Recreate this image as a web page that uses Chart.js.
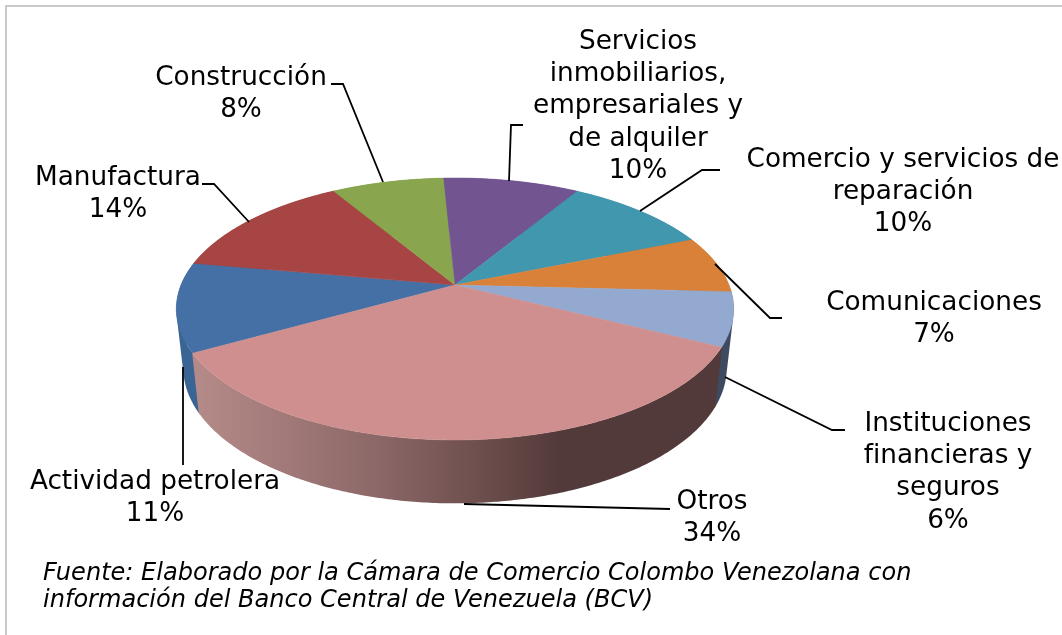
<!DOCTYPE html>
<html lang="es">
<head>
<meta charset="utf-8">
<title>PIB por sector</title>
<script src="https://cdn.jsdelivr.net/npm/chart.js@4"></script>
<style>
    html, body { margin: 0; padding: 0; background: #fff; }
    #frame { position: absolute; left: 5px; top: 5px; right: 0; bottom: 0; border-top: 2px solid #c9c9c9; border-left: 2px solid #c9c9c9; }
    #grafica { position: absolute; left: 0; top: 0; }
</style>
</head>
<body>
<div id="frame"></div>
<canvas id="grafica" width="1062" height="635"></canvas>
<script>
// Datos del gráfico
const categories = ['Actividad petrolera', 'Manufactura', 'Construcción', 'Servicios inmobiliarios, empresariales y de alquiler', 'Comercio y servicios de reparación', 'Comunicaciones', 'Instituciones financieras y seguros', 'Otros'];
const values = [11, 13.6, 7.8, 9.4, 10.15, 7.07, 6.6, 34.4];
const percentLabels = ['11%', '14%', '8%', '10%', '10%', '7%', '6%', '34%'];
const sliceColors = ['#4470a5', '#a74544', '#89a64e', '#725590', '#4097ae', '#d98139', '#94a9cf', '#ce8f8e'];
const wallColors = ['#3a6494', '#8c3a39', '#738b41', '#5f4778', '#357f92', '#b66c30', '#3d4a60', null];
const footnote = ['Fuente: Elaborado por la Cámara de Comercio Colombo Venezolana con', 'información del Banco Central de Venezuela (BCV)'];

// Etiquetas partidas en líneas: texto, centro x, primera línea y
const labelLayout = [
    { lines: ['Actividad petrolera'], x: 155, y: 482 },
    { lines: ['Manufactura'], x: 118, y: 178 },
    { lines: ['Construcción'], x: 241, y: 78 },
    { lines: ['Servicios', 'inmobiliarios,', 'empresariales y', 'de alquiler'], x: 638, y: 42 },
    { lines: ['Comercio y servicios de', 'reparación'], x: 903, y: 160 },
    { lines: ['Comunicaciones'], x: 934, y: 303 },
    { lines: ['Instituciones', 'financieras y', 'seguros'], x: 948, y: 424 },
    { lines: ['Otros'], x: 712, y: 502 }
];

// Líneas guía
const leaders = [
    [[183, 367], [183, 465]],
    [[202, 184], [214, 184], [249, 222]],
    [[331, 84], [343, 84], [383, 182]],
    [[523, 125], [511, 125], [509, 181]],
    [[720, 170], [702, 170], [640, 211]],
    [[715, 264], [770, 318], [782, 318]],
    [[725, 377], [832, 430], [845, 430]],
    [[464, 504], [670, 509]]
];

// Perspectiva del pastel 3D
const tilt = 126.6 / 274;
const persp = 0.183;
const bottomRim = { scale: 0.975, dy: 58, ry: 131 / 274 };

function project(el, ang, rim) {
    const u = Math.cos(ang), v = Math.sin(ang);
    const s = 1 / (1 - persp * v);
    const R = el.outerRadius;
    if (rim) {
        return [el.x + R * rim.scale * u * s, el.y + rim.dy + R * rim.ry * v * s];
    }
    return [el.x + R * u * s, el.y + R * tilt * v * s];
}

function arcPoints(el, rim, pad) {
    const pts = [];
    const a0 = el.startAngle - pad, a1 = el.endAngle + pad;
    const n = Math.max(2, Math.ceil((a1 - a0) / 0.01));
    for (let i = 0; i <= n; i++) {
        pts.push(project(el, a0 + (a1 - a0) * i / n, rim));
    }
    return pts;
}

function addPoly(ctx, pts) {
    pts.forEach((p, i) => i ? ctx.lineTo(p[0], p[1]) : ctx.moveTo(p[0], p[1]));
    ctx.closePath();
}

const pie3d = {
    id: 'pie3d',
    beforeDatasetDraw(chart) {
        const ctx = chart.ctx;
        const arcs = chart.getDatasetMeta(0).data;
        ctx.save();
        // Pared lateral: todos los tramos en un solo path para cubrir la silueta sin rayas
        arcs.forEach((el, i) => {
            const top = arcPoints(el, null, 0.006);
            const low = arcPoints(el, bottomRim, 0.006);
            let color = wallColors[i];
            if (!color) {
                color = ctx.createLinearGradient(200, 0, 560, 0);
                color.addColorStop(0, '#b48a88');
                color.addColorStop(0.5, '#8b6767');
                color.addColorStop(0.83, '#674a48');
                color.addColorStop(1, '#523a3a');
            }
            ctx.beginPath();
            for (let k = 0; k < top.length - 1; k++) {
                const quad = [top[k], top[k + 1], low[k + 1], low[k]];
                // mismo sentido de giro en todos los tramos
                const area = quad.reduce((sum, p, j) => {
                    const q = quad[(j + 1) % 4];
                    return sum + p[0] * q[1] - q[0] * p[1];
                }, 0);
                addPoly(ctx, area < 0 ? quad.reverse() : quad);
            }
            ctx.fillStyle = color;
            ctx.fill();
        });
        // Cara superior
        arcs.forEach((el) => {
            const color = el.options.backgroundColor;
            ctx.beginPath();
            addPoly(ctx, [[el.x, el.y]].concat(arcPoints(el, null, 0)));
            ctx.fillStyle = color;
            ctx.fill();
            ctx.strokeStyle = color;
            ctx.lineWidth = 0.5;
            ctx.stroke();
        });
        ctx.restore();
        return false;
    },
    afterDatasetsDraw(chart) {
        const ctx = chart.ctx;
        ctx.save();
        ctx.strokeStyle = '#000';
        ctx.lineWidth = 1.8;
        leaders.forEach((line) => {
            ctx.beginPath();
            line.forEach((p, i) => i ? ctx.lineTo(p[0], p[1]) : ctx.moveTo(p[0], p[1]));
            ctx.stroke();
        });
        ctx.fillStyle = '#000';
        ctx.textBaseline = 'middle';
        ctx.textAlign = 'center';
        ctx.font = '26.3px "DejaVu Sans"';
        labelLayout.forEach((lab, i) => {
            lab.lines.concat(percentLabels[i]).forEach((txt, j) => {
                ctx.fillText(txt, lab.x, lab.y + j * 32.3);
            });
        });
        ctx.textAlign = 'left';
        ctx.font = 'italic 24.05px "DejaVu Sans"';
        footnote.forEach((txt, j) => ctx.fillText(txt, 43, 574 + j * 27));
        ctx.restore();
    }
};

new Chart(document.getElementById('grafica'), {
    type: 'pie',
    data: {
        labels: categories,
        datasets: [{ data: values, backgroundColor: sliceColors, borderWidth: 0 }]
    },
    options: {
        responsive: false,
        animation: false,
        rotation: 240.6,
        layout: { padding: { left: 181, right: 333, top: 11, bottom: 76 } },
        plugins: { legend: { display: false }, tooltip: { enabled: false } }
    },
    plugins: [pie3d]
});
</script>
</body>
</html>
